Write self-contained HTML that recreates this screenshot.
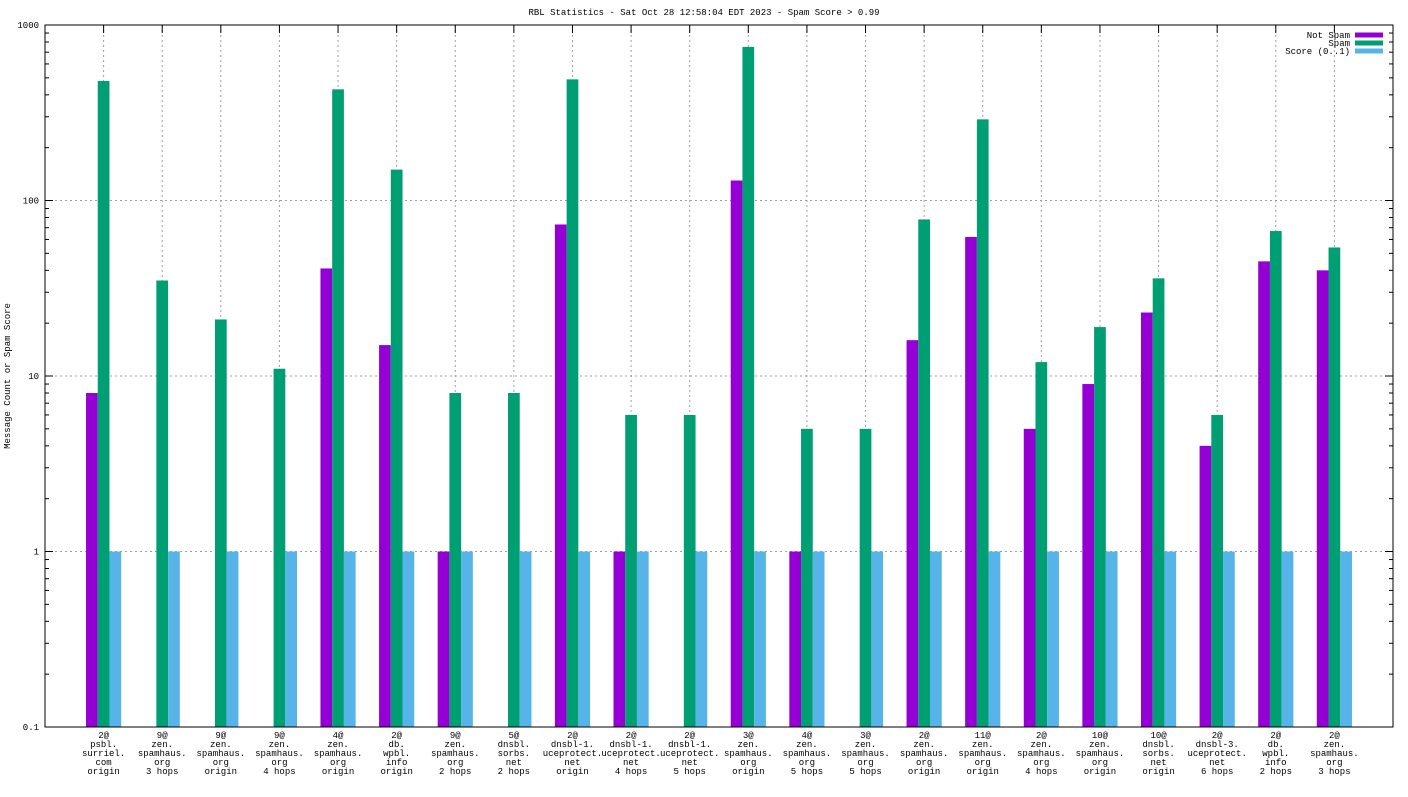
<!DOCTYPE html>
<html><head><meta charset="utf-8"><style>
body{margin:0;background:#fff}
svg text{font-family:"Liberation Mono","DejaVu Sans Mono",monospace;font-size:9px;fill:#000}
</style></head><body>
<svg id="chart" width="1408" height="792" xmlns="http://www.w3.org/2000/svg"></svg>
<script>
const categories=[
["2@","psbl.","surriel.","com","origin"],["9@","zen.","spamhaus.","org","3 hops"],["9@","zen.","spamhaus.","org","origin"],["9@","zen.","spamhaus.","org","4 hops"],["4@","zen.","spamhaus.","org","origin"],["2@","db.","wpbl.","info","origin"],["9@","zen.","spamhaus.","org","2 hops"],["5@","dnsbl.","sorbs.","net","2 hops"],["2@","dnsbl-1.","uceprotect.","net","origin"],["2@","dnsbl-1.","uceprotect.","net","4 hops"],["2@","dnsbl-1.","uceprotect.","net","5 hops"],["3@","zen.","spamhaus.","org","origin"],["4@","zen.","spamhaus.","org","5 hops"],["3@","zen.","spamhaus.","org","5 hops"],["2@","zen.","spamhaus.","org","origin"],["11@","zen.","spamhaus.","org","origin"],["2@","zen.","spamhaus.","org","4 hops"],["10@","zen.","spamhaus.","org","origin"],["10@","dnsbl.","sorbs.","net","origin"],["2@","dnsbl-3.","uceprotect.","net","6 hops"],["2@","db.","wpbl.","info","2 hops"],["2@","zen.","spamhaus.","org","3 hops"]];
const notSpam=[8,0,0,0,41,15,1,0,73,1,0,130,1,0,16,62,5,9,23,4,45,40];
const spam=[480,35,21,11,430,150,8,8,490,6,6,750,5,5,78,290,12,19,36,6,67,54];
const score=[1,1,1,1,1,1,1,1,1,1,1,1,1,1,1,1,1,1,1,1,1,1];
const yTickLabels=["0.1","1","10","100","1000"];
const seriesNames=["Not Spam","Spam","Score (0..1)"];
const colors=["#9400d3","#009e73","#56b4e9"];

const L=45,R=1393,T=25,B=727;
const svg=document.getElementById('chart');
const NS='http://www.w3.org/2000/svg';
function mk(tag,attrs,parent){const e=document.createElementNS(NS,tag);for(const k in attrs)e.setAttribute(k,attrs[k]);(parent||svg).appendChild(e);return e;}
const n=categories.length;
const unit=(R-L)/(n+1);
function xs(i){return L+(i+1)*unit;}
function ys(v){return B-(Math.log10(v)+1)/4*(B-T);}

const t=mk('text',{x:704,y:15,'text-anchor':'middle'});


t.textContent='RBL Statistics - Sat Oct 28 12:58:04 EDT 2023 - Spam Score > 0.99';
const yl=mk('text',{x:10,y:376,'text-anchor':'middle',transform:'rotate(-90 10 376)'});


yl.textContent='Message Count or Spam Score';

// grid
for(let d=0;d<yTickLabels.length;d++){
  const v=Math.pow(10,d-1),y=ys(v);
  if(d>0&&d<4){const g=mk('line',{x1:L,x2:R,y1:y,y2:y,stroke:'#a0a0a0','stroke-dasharray':'2,3','stroke-width':1});
  }
  mk('line',{x1:L,x2:L+8,y1:y,y2:y,stroke:'#000'});mk('line',{x1:R-8,x2:R,y1:y,y2:y,stroke:'#000'});
  const tl=mk('text',{x:L-6,y:y+3,'text-anchor':'end'});
  
  tl.textContent=yTickLabels[d];
  if(d<4)for(let m=2;m<10;m++){const ym=ys(v*m);
    mk('line',{x1:L,x2:L+4,y1:ym,y2:ym,stroke:'#000'});mk('line',{x1:R-4,x2:R,y1:ym,y2:ym,stroke:'#000'});}
}
for(let i=0;i<n;i++){
  const x=xs(i);
  const g=mk('line',{x1:x,x2:x,y1:T,y2:B,stroke:'#a0a0a0','stroke-dasharray':'2,3'});
  
  mk('line',{x1:x,x2:x,y1:T,y2:T+8,stroke:'#000'});
}
// bars
const bw=unit*0.2;
const series=[notSpam,spam,score];
series.forEach((s,si)=>{
  s.forEach((v,i)=>{
    if(!(v>0))return;
    const x=xs(i)+(si-1)*bw-bw/2,y=ys(v);
    const r=mk('rect',{x:x,y:y,width:bw,height:B-y,fill:colors[si]});
    
    
  });
});
// x labels
categories.forEach((c,i)=>{
  const tx=mk('text',{x:xs(i),y:738,'text-anchor':'middle'});
  
  
  c.forEach((ln,k)=>{const sp=mk('tspan',{x:xs(i),dy:k?9:0},tx);sp.textContent=ln;});
});
// border
const bd=mk('rect',{x:L,y:T,width:R-L,height:B-T,fill:'none',stroke:'#000','stroke-width':1});

// legend
seriesNames.forEach((nm,k)=>{
  const y=35+k*8;
  const lt=mk('text',{x:1350,y:y+3,'text-anchor':'end'});
  
  lt.textContent=nm;
  const lr=mk('rect',{x:1355,y:y-2.5,width:28,height:5,fill:colors[k]});
  
});
</script>
</body></html>
